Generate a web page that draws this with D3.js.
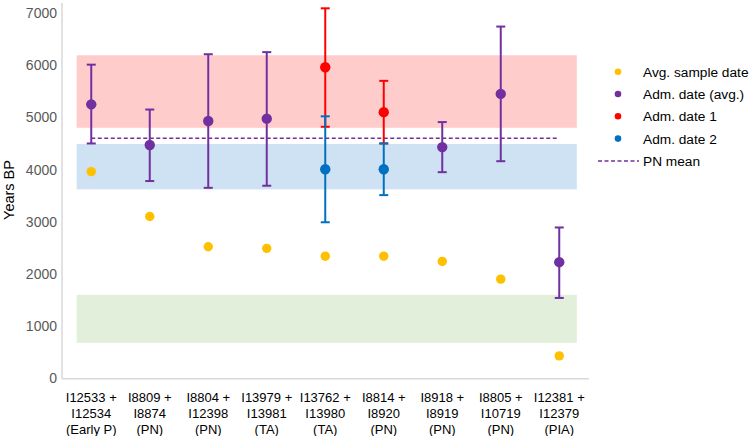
<!DOCTYPE html>
<html><head><meta charset="utf-8">
<script src="https://cdn.jsdelivr.net/npm/d3@7"></script>
<style>
html,body{margin:0;padding:0;background:#fff;}
svg{display:block;font-family:"Liberation Sans",Arial,sans-serif;}
</style></head>
<body><svg id="chart" width="750" height="436"></svg>
<script>
const categories = [
  ["I12533 +","I12534","(Early P)"],
  ["I8809 +","I8874","(PN)"],
  ["I8804 +","I12398","(PN)"],
  ["I13979 +","I13981","(TA)"],
  ["I13762 +","I13980","(TA)"],
  ["I8814 +","I8920","(PN)"],
  ["I8918 +","I8919","(PN)"],
  ["I8805 +","I10719","(PN)"],
  ["I12381 +","I12379","(PIA)"]
];
const avgSample = [3960, 3100, 2520, 2490, 2340, 2340, 2240, 1900, 430];
// [index, value, low, high]
const admAvg = [[0,5250,4500,6010],[1,4470,3780,5150],[2,4930,3650,6210],[3,4975,3690,6250],[6,4430,3950,4910],[7,5450,4160,6740],[8,2225,1540,2890]];
const adm1 = [[4,5960,4820,7090],[5,5100,4500,5700]];
const adm2 = [[4,4005,2990,5020],[5,4005,3510,4500]];
const pnMean = 4600;
// background bands [fromIndex, toIndex, low, high, colour]
const bands = [[-0.25,8.3,4800,6190,"#ffcccc"],[-0.25,8.3,3620,4490,"#cfe2f3"],[-0.25,8.3,680,1600,"#e2efda"]];
const yTicks = [0,1000,2000,3000,4000,5000,6000,7000];
const legendItems = [["Avg. sample date","#ffc000","dot"],["Adm. date (avg.)","#7030a0","dot"],["Adm. date 1","#ff0000","dot"],["Adm. date 2","#0070c0","dot"],["PN mean","#7030a0","dash"]];

const svg = d3.select("#chart");
const x = d3.scaleBand().domain(d3.range(categories.length)).range([62, 588.5]).padding(0);
const cx = i => x(i) + x.bandwidth()/2;
const xi = d3.scaleLinear().domain([0, categories.length-1]).range([cx(0), cx(categories.length-1)]);
const y = d3.scaleLinear().domain([0,7000]).range([378.3, 13]);

// bands
svg.append("g").selectAll("rect").data(bands).join("rect")
  .attr("x", d=>xi(d[0])).attr("width", d=>xi(d[1])-xi(d[0]))
  .attr("y", d=>y(d[3])).attr("height", d=>y(d[2])-y(d[3]))
  .attr("fill", d=>d[4]);

// axes
const yAxis = svg.append("g").attr("transform","translate(62,0)")
  .call(d3.axisLeft(y).tickValues(yTicks).tickSize(0).tickPadding(5).tickFormat(d3.format("d")));
yAxis.select(".domain").attr("stroke","#d9d9d9").attr("stroke-width",1.5).attr("d","M0,3V378.8");
yAxis.selectAll("text").attr("font-size",14).attr("fill","#595959").attr("font-family","Liberation Sans, Arial, sans-serif");

svg.append("line").attr("x1",62).attr("x2",589).attr("y1",y(0)+0.5).attr("y2",y(0)+0.5)
  .attr("stroke","#d9d9d9").attr("stroke-width",1.5);

// x labels
const xl = svg.append("g");
categories.forEach((c,i)=>{
  const t = xl.append("text").attr("x",cx(i)).attr("text-anchor","middle").attr("font-size",13).attr("fill","#000");
  c.forEach((line,j)=>t.append("tspan").attr("x",cx(i)).attr("y",401.5+j*16).text(line));
});

// y title
svg.append("text").attr("transform","translate(13.5,190) rotate(-90)").attr("text-anchor","middle")
  .attr("font-size",14.5).attr("fill","#000").text("Years BP");

// PN mean line
svg.append("line").attr("x1",cx(0)).attr("x2",cx(8)).attr("y1",y(pnMean)).attr("y2",y(pnMean))
  .attr("stroke","#7030a0").attr("stroke-width",1.5).attr("stroke-dasharray","4,2.5");

// yellow points
svg.append("g").selectAll("circle").data(avgSample).join("circle")
  .attr("cx",(d,i)=>cx(i)).attr("cy",d=>y(d)).attr("r",4.7).attr("fill","#ffc000");

function errSeries(data,color){
  const g = svg.append("g");
  data.forEach(d=>{
    const c = cx(d[0]);
    g.append("line").attr("x1",c).attr("x2",c).attr("y1",y(d[2])).attr("y2",y(d[3])).attr("stroke",color).attr("stroke-width",2);
    [d[2],d[3]].forEach(v=>g.append("line").attr("x1",c-4.5).attr("x2",c+4.5).attr("y1",y(v)).attr("y2",y(v)).attr("stroke",color).attr("stroke-width",2));
  });
  g.selectAll("circle").data(data).join("circle").attr("cx",d=>cx(d[0])).attr("cy",d=>y(d[1])).attr("r",5.2).attr("fill",color);
}
errSeries(admAvg,"#7030a0");
errSeries(adm1,"#ff0000");
errSeries(adm2,"#0070c0");

// legend
const lg = svg.append("g");
legendItems.forEach((d,i)=>{
  const yy = 71.7 + i*22.3;
  if(d[2]==="dot") lg.append("circle").attr("cx",618).attr("cy",yy).attr("r",3.3).attr("fill",d[1]);
  else lg.append("line").attr("x1",598).attr("x2",639).attr("y1",yy).attr("y2",yy).attr("stroke",d[1]).attr("stroke-width",1.5).attr("stroke-dasharray","4,2.5");
  lg.append("text").attr("x",643).attr("y",yy+5).attr("font-size",13.7).attr("fill","#000").text(d[0]);
});
</script></body></html>
